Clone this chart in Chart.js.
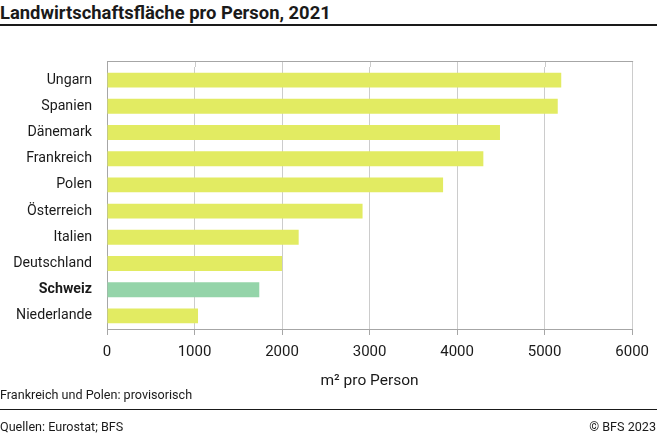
<!DOCTYPE html>
<html>
<head>
<meta charset="utf-8">
<script src="https://cdn.jsdelivr.net/npm/chart.js@4"></script>
<style>
  html, body { margin: 0; padding: 0; background: #fff; }
  body { width: 657px; height: 436px; position: relative; overflow: hidden; font-family: Roboto, sans-serif; color: #1a1a1a; }
  #chart { position: absolute; left: 0; top: 0; }
  .txt { position: absolute; white-space: nowrap; line-height: 1; }
  #title { left: 0; top: 4px; font-size: 18.4px; font-weight: bold; }
  .rule { position: absolute; left: 0; width: 657px; background: #1a1a1a; }
  #note { left: 0; top: 389px; font-size: 12.6px; }
  #src { left: 0; top: 421px; font-size: 12.6px; }
  #copy { right: 1px; top: 421px; font-size: 12.6px; }
</style>
</head>
<body>
<div id="title" class="txt">Landwirtschaftsfläche pro Person, 2021</div>
<div class="rule" style="top:24px;height:2px"></div>
<canvas id="chart" width="657" height="436"></canvas>
<div id="note" class="txt">Frankreich und Polen: provisorisch</div>
<div class="rule" style="top:409px;height:1px"></div>
<div id="src" class="txt">Quellen: Eurostat; BFS</div>
<div id="copy" class="txt">© BFS 2023</div>
<script>
// Landwirtschaftsfläche pro Person (m²), 2021
const countries = ["Ungarn", "Spanien", "Dänemark", "Frankreich", "Polen", "Österreich", "Italien", "Deutschland", "Schweiz", "Niederlande"];
const areaPerPerson = [5190, 5150, 4490, 4300, 3840, 2920, 2190, 2000, 1740, 1040];
const highlight = "Schweiz";
const xTicks = [0, 1000, 2000, 3000, 4000, 5000, 6000];

const YELLOW = "#e2eb62";
const MINT = "#94d4a9";
const GRID = "#cccccc";
const FRAME = "#a6a6a6";
const TEXT = "#1a1a1a";
const TOP_GAP = 6; // Rahmen liegt etwas über der ersten Kategorie

// oberer Rand + Gitterlinien bis zum Rahmen verlängern
const framePlugin = {
  id: "frame",
  beforeDatasetsDraw(chart) {
    const { ctx, chartArea: a, scales } = chart;
    const yTop = a.top - TOP_GAP;
    ctx.save();
    ctx.lineWidth = 1;
    ctx.strokeStyle = GRID;
    scales.x.ticks.forEach((t) => {
      const x = Math.round(scales.x.getPixelForValue(t.value)) + 0.5;
      ctx.beginPath();
      ctx.moveTo(x, yTop);
      ctx.lineTo(x, a.top);
      ctx.stroke();
    });
    ctx.strokeStyle = FRAME;
    ctx.beginPath();
    ctx.moveTo(a.left, yTop + 0.5);
    ctx.lineTo(a.right + 1, yTop + 0.5);
    ctx.moveTo(a.left + 0.5, yTop);
    ctx.lineTo(a.left + 0.5, a.top);
    ctx.stroke();
    ctx.restore();
  },
};

new Chart(document.getElementById("chart"), {
  type: "bar",
  data: {
    labels: countries,
    datasets: [
      {
        data: areaPerPerson,
        backgroundColor: countries.map((c) => (c === highlight ? MINT : YELLOW)),
        barPercentage: 0.57,
        categoryPercentage: 1,
      },
    ],
  },
  options: {
    indexAxis: "y",
    responsive: false,
    animation: false,
    devicePixelRatio: 1,
    layout: { padding: { left: 0, right: 20, top: 61 + TOP_GAP, bottom: 44 } },
    plugins: { legend: { display: false }, tooltip: { enabled: false } },
    scales: {
      x: {
        min: 0,
        max: 6000,
        afterBuildTicks: (s) => { s.ticks = xTicks.map((v) => ({ value: v })); },
        afterFit: (s) => { s.height = 63; },
        grid: { color: GRID, tickLength: 6, tickColor: FRAME },
        border: { color: FRAME },
        ticks: { color: TEXT, font: { family: "Roboto", size: 15 }, padding: 8, maxRotation: 0, callback: (v) => String(v) },
        title: { display: true, text: "m² pro Person", color: TEXT, font: { family: "Roboto", size: 15.5 }, padding: { top: 4, bottom: 2 } },
      },
      y: {
        afterFit: (s) => { s.width = 107; },
        grid: { display: false },
        border: { color: FRAME },
        ticks: {
          color: TEXT,
          padding: 7,
          font: (ctx) => ({ family: "Roboto", size: 14.2, weight: countries[ctx.index] === highlight ? "bold" : "normal" }),
        },
      },
    },
  },
  plugins: [framePlugin],
});
</script>
</body>
</html>
